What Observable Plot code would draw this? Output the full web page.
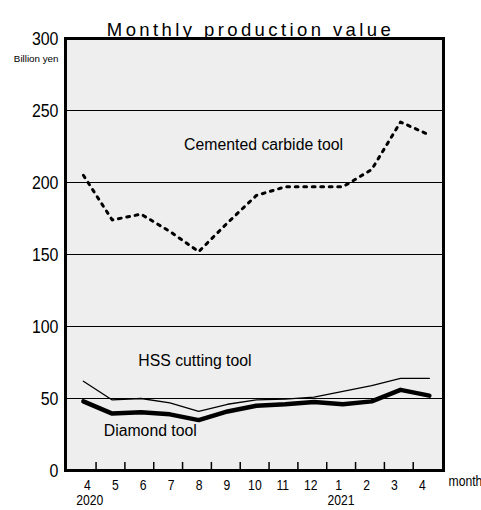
<!DOCTYPE html>
<html>
<head>
<meta charset="utf-8">
<script src="https://cdn.jsdelivr.net/npm/d3@7"></script>
<script src="https://cdn.jsdelivr.net/npm/@observablehq/plot@0.6"></script>
<style>
  html, body { margin: 0; padding: 0; background: #fff; }
</style>
</head>
<body>
<div id="chart"></div>
<script>
const months = ["4", "5", "6", "7", "8", "9", "10", "11", "12", "1", "2", "3", "4"];
const years = [{i: 0, label: "2020"}, {i: 9, label: "2021"}];
const carbide = [205, 174, 178, 166, 152, 172, 191, 197, 197, 197, 209, 242, 233];
const hss = [62, 49, 50, 47, 41, 46, 49, 49.5, 51, 55, 59, 64, 64];
const diamond = [48, 39.5, 40.5, 39, 35, 41, 45, 46, 47.5, 46, 48, 56, 52];
const yTicks = [0, 50, 100, 150, 200, 250, 300];
const gridLines = [50, 100, 150, 200, 250];

const idx = months.map((_, i) => i);
const tickPos = months.slice(0, -1).map((_, i) => i + 0.44);
const labelPos = months.map((m, i) => ({m, x: i * 0.968 + 0.14}));

const narrow = "'Liberation Sans', Arial, sans-serif, narrow";
const sans = "'Liberation Sans', Arial, sans-serif";

const plot = Plot.plot({
  width: 481,
  height: 510,
  marginTop: 38,
  marginBottom: 40,
  marginLeft: 65,
  marginRight: 38,
  x: {domain: [-0.62, 12.49], axis: null},
  y: {domain: [0, 300], axis: null},
  style: {fontFamily: sans, background: "#fff", overflow: "visible"},
  marks: [
    Plot.frame({fill: "#eeeeee", stroke: null}),
    Plot.ruleY(gridLines, {stroke: "#000", strokeWidth: 1.2}),
    Plot.ruleX(tickPos, {x: d => d, y1: 0, y2: 5.6, stroke: "#000", strokeWidth: 1.5}),
    Plot.line(idx, {x: d => d, y: d => hss[d], stroke: "#000", strokeWidth: 1.3}),
    Plot.line(idx, {x: d => d, y: d => diamond[d], stroke: "#000", strokeWidth: 4.5, strokeLinejoin: "round"}),
    Plot.line(idx, {x: d => d, y: d => carbide[d], stroke: "#000", strokeWidth: 3, strokeDasharray: "2.8,5.7", strokeLinecap: "round"}),
    Plot.frame({stroke: "#000", strokeWidth: 3}),
    // y tick labels
    Plot.text(yTicks, {frameAnchor: "left", y: d => d, text: d => String(d), dx: -7, textAnchor: "end", fontSize: 19, fontFamily: narrow, fill: "#000"}),
    Plot.text(["Billion yen"], {frameAnchor: "top-left", text: d => d, dx: -7, dy: 17, textAnchor: "end", fontSize: 9.8, fill: "#000"}),
    // x tick labels
    Plot.text(labelPos, {x: "x", y: 0, text: "m", dy: 15, fontSize: 14.5, fontFamily: narrow, fill: "#000"}),
    Plot.text(years, {x: d => labelPos[d.i].x + 0.08, y: 0, text: "label", dy: 30, fontSize: 14.5, fontFamily: narrow, fill: "#000"}),
    Plot.text(["month"], {frameAnchor: "bottom-right", text: d => d, dx: 5, dy: 15, textAnchor: "start", fontSize: 14.5, fontFamily: narrow, fill: "#000"}),
    // series labels
    Plot.text(["Cemented carbide tool"], {x: 6.25, y: 226, text: d => d, fontSize: 15.8, fill: "#000"}),
    Plot.text(["HSS cutting tool"], {x: 3.87, y: 76, text: d => d, fontSize: 15.8, fill: "#000"}),
    Plot.text(["Diamond tool"], {x: 2.32, y: 27.5, text: d => d, fontSize: 15.8, fill: "#000"}),
    // title
    Plot.text(["Monthly production value"], {frameAnchor: "top", text: d => d, dx: -4, dy: -16, fontSize: 18.5, fill: "#000"})
  ]
});

d3.select(plot).selectAll("text").filter(function() { return this.textContent === "Monthly production value"; })
  .attr("letter-spacing", "3.4");

// condensed look for axis numbers (horizontal scale only; keep vertical attributes)
d3.select(plot).selectAll("g[font-family*='narrow'] text").each(function() {
  const t = this.getAttribute("transform") || "";
  const xa = this.getAttribute("x");
  let extra = "";
  if (xa !== null && !isNaN(+xa)) {
    extra = ` translate(${+xa},0)`;
    this.removeAttribute("x");
  }
  this.setAttribute("transform", `${t}${extra} scale(0.84,1)`);
});

document.getElementById("chart").appendChild(plot);
</script>
</body>
</html>
